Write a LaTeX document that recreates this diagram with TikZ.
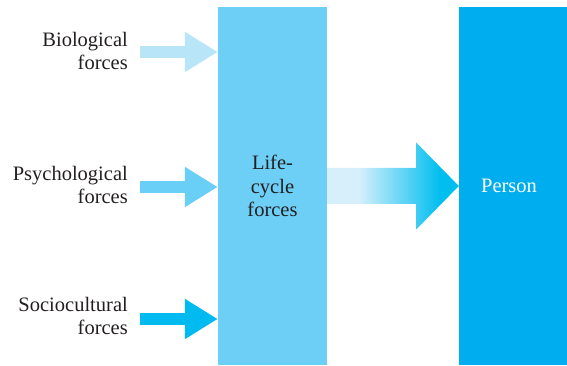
\documentclass[tikz,border=0pt]{standalone}
\usepackage{fontspec}
\setmainfont{Liberation Serif}
\usetikzlibrary{arrows.meta,calc,positioning}

\definecolor{textgray}{HTML}{231F20}
\definecolor{biocol}{HTML}{B9E5F9}
\definecolor{psycol}{HTML}{6ACFF6}
\definecolor{soccol}{HTML}{00BAF0}
\definecolor{lifecol}{HTML}{6DCFF6}
\definecolor{personcol}{HTML}{00AEEF}
\definecolor{flowlight}{HTML}{D6EFFB}
\definecolor{flowdark}{HTML}{00BEF0}

\pgfdeclarehorizontalshading{lifeflow}{100bp}{color(0bp)=(flowlight); color(37bp)=(flowlight); color(68bp)=(flowdark); color(100bp)=(flowdark)}

\tikzset{
forcelabel/.style={
  anchor=east,
  align=right,
  text=textgray,
  font=\fontsize{20.5}{23.5}\selectfont,
  inner sep=0pt,
  }
}
\tikzset{
forcebox/.style={
  rectangle,
  inner sep=0pt,
  minimum height=358pt,
  align=center,
  font=\fontsize{20.5}{23.5}\selectfont,
  }
}
\tikzset{
forcearrow/.style={
  line width=12pt,
  -{Triangle[length=33pt,width=38pt]}
  }
}

\begin{document}
\begin{tikzpicture}[x=1pt,y=1pt]
    \useasboundingbox (0,0) rectangle (567,366);

    % boxes
    \node[forcebox, fill=lifecol, minimum width=109pt, text=textgray] (life) at (272.5,180) {Life-\\cycle\\forces};
    \node[forcebox, fill=personcol, minimum width=108pt, text=white] (person) at (513,180) {Person\hspace{8pt}};

    % labels
    \node[forcelabel] (bio) at (128,315) {Biological\\forces};
    \node[forcelabel] (psy) at (128,181) {Psychological\\forces};
    \node[forcelabel] (soc) at (128,50) {Sociocultural\\forces};

    % input arrows
    \draw[forcearrow, biocol] ($(bio.east)+(12,-1)$) -- ($(bio.east -| life.west)+(0,-1)$);
    \draw[forcearrow, psycol] ($(psy.east)+(12,-2)$) -- ($(psy.east -| life.west)+(0,-2)$);
    \draw[forcearrow, soccol] ($(soc.east)+(12,-3)$) -- ($(soc.east -| life.west)+(0,-3)$);

    % output arrow
    \shade[shading=lifeflow] ($(life.east)+(0,-18)$) -- ++(89,0) -- ++(0,-25.5)
        -- (person.west) -- ($(life.east)+(89,43.5)$) -- ++(0,-25.5)
        -- ($(life.east)+(0,18)$) -- cycle;
\end{tikzpicture}
\end{document}
